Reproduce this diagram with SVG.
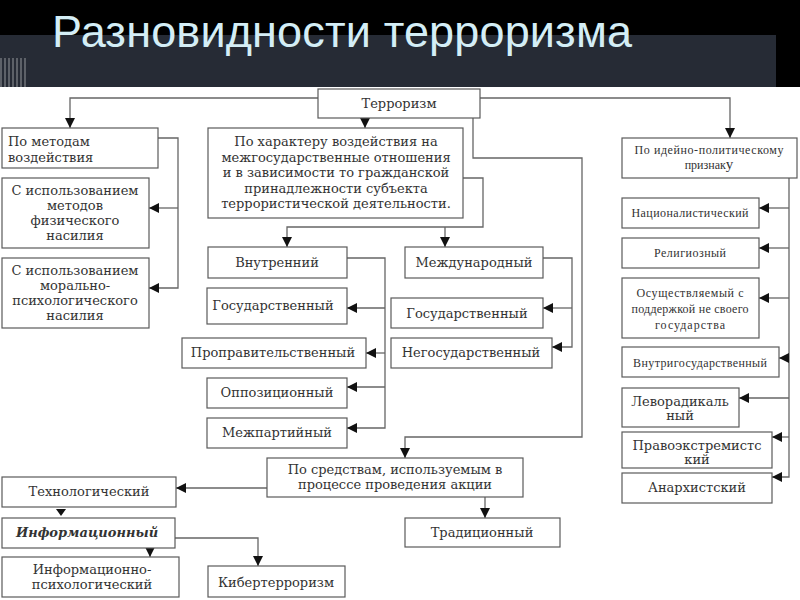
<svg xmlns="http://www.w3.org/2000/svg" width="800" height="600" viewBox="0 0 800 600">
<style>
.b{fill:#fff;stroke:#5a5a5a;stroke-width:1.2}
.t{font-family:"DejaVu Serif",serif;font-size:13px;fill:#333;text-anchor:middle}
.l{text-anchor:start}
.s{font-family:"Liberation Serif",serif;font-size:12px;fill:#333;text-anchor:middle}
.c{fill:none;stroke:#666;stroke-width:1.3}
.c path,.c polyline,.c line{marker-end:url(#a)}
</style>
<defs>
<marker id="a" markerUnits="userSpaceOnUse" markerWidth="10" markerHeight="10" refX="10" refY="5" orient="auto"><path d="M0,0 L10,5 L0,10 z" fill="#111"/></marker>
<pattern id="st" width="4" height="30" patternUnits="userSpaceOnUse"><rect width="2" height="30" fill="#5d6168"/></pattern>
</defs>
<rect width="800" height="600" fill="#fff"/>
<rect width="800" height="36" fill="#000"/>
<rect y="35" width="776" height="52" fill="#262b35"/>
<rect x="776" y="35" width="24" height="52" fill="#000"/>
<rect x="0" y="58" width="28" height="29" fill="url(#st)"/>
<text x="52" y="47" font-family="Liberation Sans,Arial,sans-serif" font-size="45" fill="#d4eef6" textLength="580">Разновидности  терроризма</text>

<g class="c" id="connectors">
<polyline points="318,98 70,98 70,128"/>
<line x1="365" y1="118" x2="365" y2="128"/>
<polyline points="480,98 730,98 730,138"/>
<polyline points="473,118 473,158 582,158 582,437 405,437 405,458"/>
<polyline points="158,138 178,138 178,288 149,288"/>
<line x1="178" y1="208" x2="149" y2="208"/>
<polyline points="463,178 483,178 483,227 287,227 287,247"/>
<line x1="445" y1="227" x2="445" y2="247"/>
<polyline points="347,258 385,258 385,428 347,428"/>
<line x1="385" y1="308" x2="347" y2="308"/>
<line x1="385" y1="353" x2="366" y2="353"/>
<line x1="385" y1="387" x2="347" y2="387"/>
<polyline points="543,258 572,258 572,347 552,347"/>
<line x1="572" y1="308" x2="543" y2="308"/>
<polyline points="789,178 789,477 772,477"/>
<line x1="789" y1="208" x2="759" y2="208"/>
<line x1="789" y1="248" x2="759" y2="248"/>
<line x1="789" y1="298" x2="759" y2="298"/>
<line x1="789" y1="358" x2="779" y2="358"/>
<line x1="789" y1="398" x2="739" y2="398"/>
<line x1="789" y1="437" x2="772" y2="437"/>
<line x1="267" y1="488" x2="176" y2="488"/>
<line x1="485" y1="497" x2="485" y2="518"/>
<polygon points="56,509 66,509 61,516" fill="#111" stroke="none"/>
<line x1="150" y1="535" x2="150" y2="557"/>
<polyline points="175,538 258,538 258,566"/>
</g>

<g id="n-terror"><rect class="b" x="318" y="89" width="162" height="29"/><text class="t" x="399" y="108">Терроризм</text></g>
<g id="n-methods"><rect class="b" x="2" y="128" width="156" height="40"/><text class="t l" x="8" y="146">По методам</text><text class="t l" x="8" y="162">воздействия</text></g>
<g id="n-phys"><rect class="b" x="2" y="178" width="147" height="70"/><text class="t" x="75" y="195">С использованием</text><text class="t" x="75" y="210">методов</text><text class="t" x="75" y="225">физического</text><text class="t" x="75" y="240">насилия</text></g>
<g id="n-moral"><rect class="b" x="2" y="258" width="147" height="70"/><text class="t" x="75" y="275">С использованием</text><text class="t" x="75" y="290">морально-</text><text class="t" x="75" y="305">психологического</text><text class="t" x="75" y="320">насилия</text></g>
<g id="n-character"><rect class="b" x="208" y="128" width="255" height="90"/><text class="t" x="336" y="146">По характеру воздействия на</text><text class="t" x="336" y="161.5">межгосударственные отношения</text><text class="t" x="336" y="177">и в зависимости то гражданской</text><text class="t" x="336" y="192.5">принадлежности субъекта</text><text class="t" x="336" y="208">террористической деятельности.</text></g>
<g id="n-internal"><rect class="b" x="208" y="247" width="139" height="31"/><text class="t" x="277" y="267">Внутренний</text></g>
<g id="n-intl"><rect class="b" x="405" y="247" width="138" height="31"/><text class="t" x="474" y="267">Международный</text></g>
<g id="n-state-l"><rect class="b" x="207" y="288" width="140" height="36"/><text class="t" x="273" y="310">Государственный</text></g>
<g id="n-progov"><rect class="b" x="182" y="338" width="184" height="30"/><text class="t" x="273" y="357">Проправительственный</text></g>
<g id="n-oppo"><rect class="b" x="207" y="378" width="140" height="30"/><text class="t" x="277" y="397">Оппозиционный</text></g>
<g id="n-party"><rect class="b" x="207" y="418" width="140" height="30"/><text class="t" x="277" y="437">Межпартийный</text></g>
<g id="n-state-r"><rect class="b" x="391" y="298" width="152" height="30"/><text class="t" x="467" y="318">Государственный</text></g>
<g id="n-nonstate"><rect class="b" x="391" y="338" width="161" height="30"/><text class="t" x="471" y="357">Негосударственный</text></g>
<g id="n-ideo"><rect class="b" x="622" y="138" width="175" height="40"/><text class="s" x="709" y="154" textLength="149">По идейно-политическому</text><text class="s" x="709" y="169">признак<tspan font-size="15">у</tspan></text></g>
<g id="n-nat"><rect class="b" x="622" y="198" width="137" height="30"/><text class="s" x="690" y="217" textLength="117">Националистический</text></g>
<g id="n-rel"><rect class="b" x="622" y="238" width="137" height="30"/><text class="s" x="690" y="257" textLength="72">Религиозный</text></g>
<g id="n-foreign"><rect class="b" x="622" y="278" width="137" height="60"/><text class="s" x="690" y="297" textLength="107">Осуществляемый с</text><text class="s" x="690" y="313" textLength="117">поддержкой не своего</text><text class="s" x="690" y="329" textLength="70">государства</text></g>
<g id="n-domestic"><rect class="b" x="622" y="347" width="157" height="30"/><text class="s" x="700" y="367" font-size="11" textLength="134">Внутригосударственный</text></g>
<g id="n-left"><rect class="b" x="622" y="388" width="117" height="39"/><text class="t" x="680" y="406">Леворадикаль</text><text class="t" x="680" y="420">ный</text></g>
<g id="n-right"><rect class="b" x="622" y="432" width="150" height="36"/><text class="t" x="697" y="450">Правоэкстремистс</text><text class="t" x="697" y="464">кий</text></g>
<g id="n-anarch"><rect class="b" x="622" y="473" width="150" height="30"/><text class="t" x="697" y="492" font-size="13.5">Анархистский</text></g>
<g id="n-means"><rect class="b" x="267" y="458" width="256" height="39"/><text class="t" x="395" y="474">По средствам, используемым в</text><text class="t" x="395" y="489">процессе проведения акции</text></g>
<g id="n-tech"><rect class="b" x="2" y="477" width="174" height="30"/><text class="t" x="89" y="496">Технологический</text></g>
<g id="n-info"><rect class="b" x="2" y="518" width="173" height="30"/><text class="t" x="87" y="537" font-weight="bold" font-style="italic">Информационный</text></g>
<g id="n-infopsy"><rect class="b" x="2" y="557" width="177" height="40"/><text class="t" x="92" y="574">Информационно-</text><text class="t" x="92" y="589">психологический</text></g>
<g id="n-cyber"><rect class="b" x="208" y="566" width="137" height="31"/><text class="t" x="276" y="587">Кибертерроризм</text></g>
<g id="n-trad"><rect class="b" x="405" y="518" width="155" height="29"/><text class="t" x="482" y="537">Традиционный</text></g>
</svg>
